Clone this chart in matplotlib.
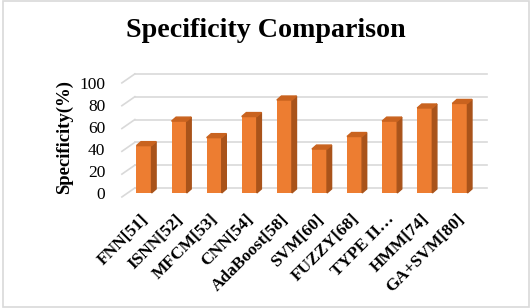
import matplotlib.pyplot as plt
from matplotlib.patches import Polygon, Rectangle

methods = ["FNN[51]", "ISNN[52]", "MFCM[53]", "CNN[54]", "AdaBoost[58]",
           "SVM[60]", "FUZZY[68]", "TYPE II…", "HMM[74]", "GA+SVM[80]"]
specificity = [41.5, 63, 48.5, 67, 81.5, 38.5, 49.5, 63, 74.5, 78.5]
y_ticks = [0, 20, 40, 60, 80, 100]

front_col = "#ED7D31"
side_col = "#A9531A"
top_col = "#C9631F"
grid_col = "#D9D9D9"

plt.rcParams['font.family'] = ['Liberation Serif', 'DejaVu Serif']

fig = plt.figure(figsize=(5.32, 3.08), dpi=100)
ax = fig.add_axes([0.2245, 0.355, 0.696, 0.411])
ax.set_xlim(-0.7, 9.85)
ax.set_ylim(-5, 106)
ax.axis("off")

# back wall gridlines + left floor diagonals (3D look)
back_dy = 4.4
for v in y_ticks:
    ax.plot([-0.26, 9.77], [v + back_dy, v + back_dy], color=grid_col, lw=1.2, zorder=1)
    ax.plot([-0.63, -0.26], [v - 3.5, v + back_dy], color=grid_col, lw=1.2, zorder=1)
    ax.text(-1.1, -1.75 + v * 0.965, str(v), ha="right", va="center", fontsize=12.5)

# bars with side and top faces
w = 0.43
dx, dy = 0.13, 3.5
bars = ax.bar(range(len(methods)), specificity, width=w, color=front_col, zorder=3)
for b in bars:
    x0 = b.get_x()
    x1 = x0 + b.get_width()
    h = b.get_height()
    ax.add_patch(Polygon([(x1, 0), (x1 + dx, dy), (x1 + dx, h + dy), (x1, h)],
                         closed=True, color=side_col, zorder=3))
    ax.add_patch(Polygon([(x0, h), (x0 + dx, h + dy), (x1 + dx, h + dy), (x1, h)],
                         closed=True, color=top_col, zorder=3))

for i, name in enumerate(methods):
    ax.text(i + 0.05, -21, name, rotation=45, rotation_mode="anchor",
            ha="right", va="center", fontsize=12.5, fontweight="bold", clip_on=False)

fig.text(0.5, 0.9, "Specificity Comparison", ha="center", va="center",
         fontsize=20.2, fontweight="bold")
fig.text(0.122, 0.556, "Specificity(%)", rotation=90, ha="center", va="center",
         fontsize=13.5, fontweight="bold")

fig.patches.append(Rectangle((0.006, 0.003), 0.988, 0.994, transform=fig.transFigure,
                             fill=False, edgecolor=grid_col, lw=1.2))

fig.savefig("out.png", dpi=100)
